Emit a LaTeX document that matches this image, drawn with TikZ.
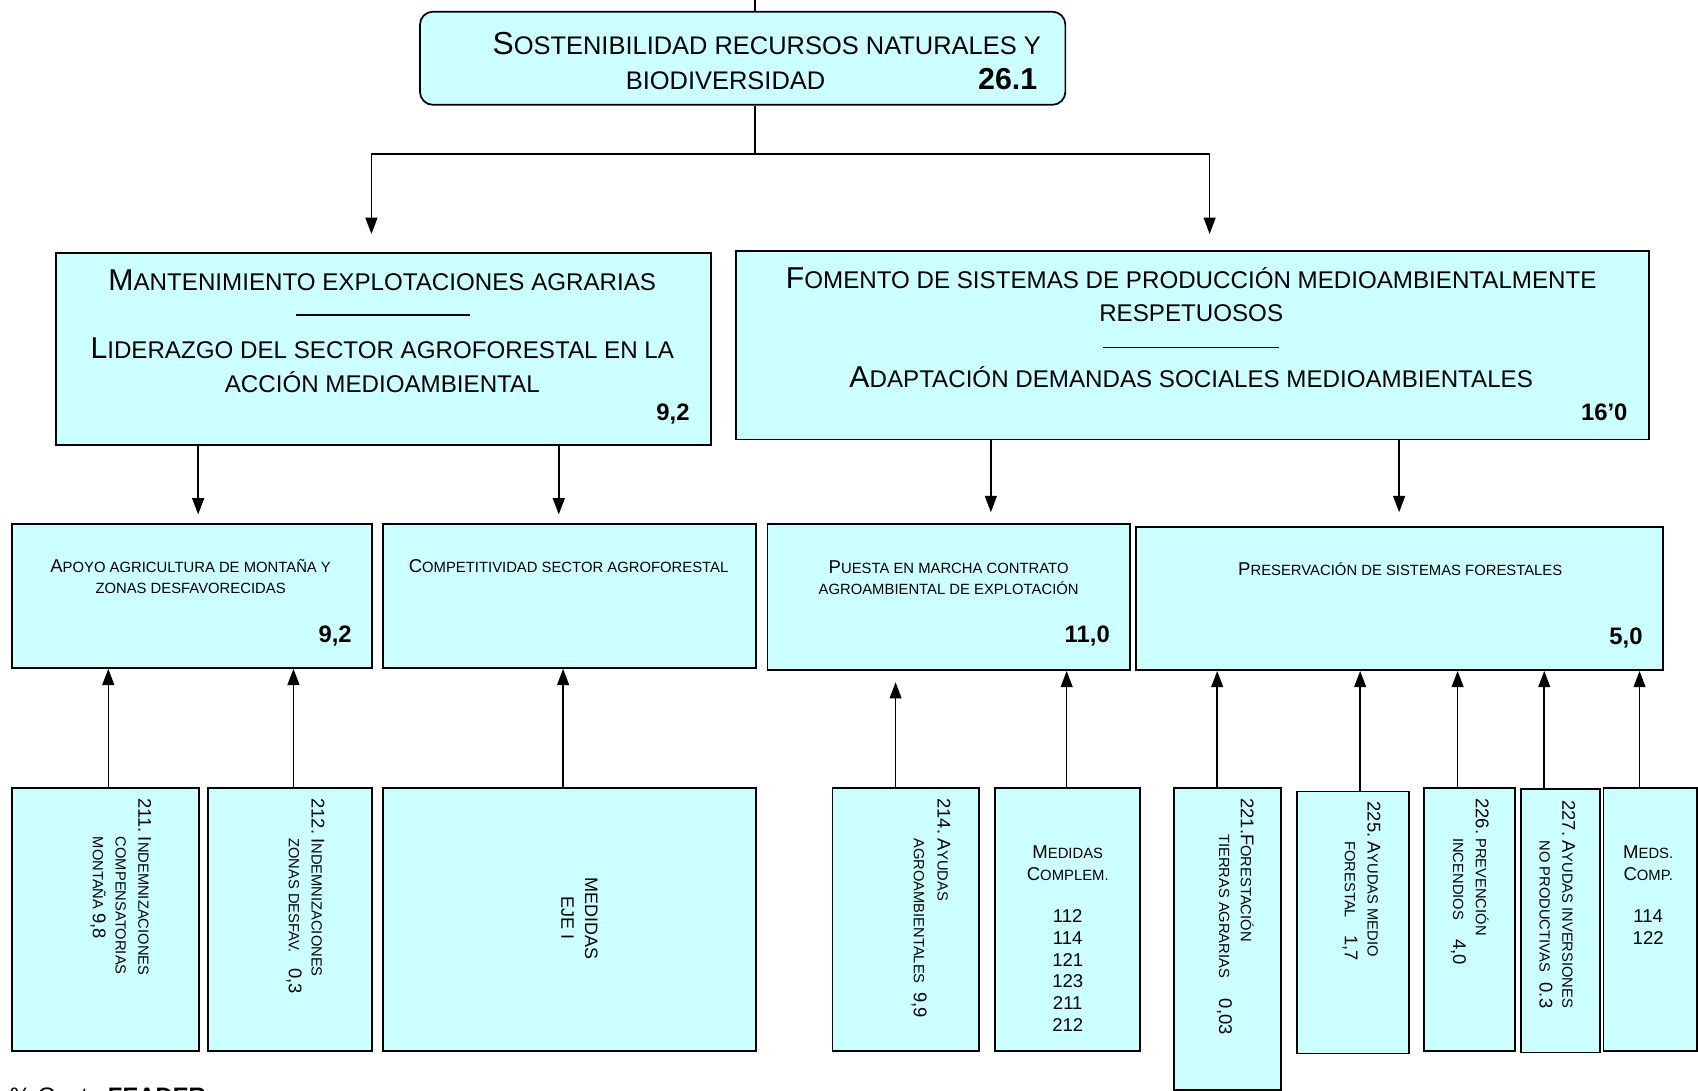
\documentclass[tikz,border=0pt]{standalone}
\usepackage{fontspec}
\setmainfont{Liberation Sans}
\usepackage{graphicx}
\usetikzlibrary{arrows.meta}
\definecolor{boxcyan}{HTML}{CCFFFF}
\newcommand\Up[1]{\scalebox{1.25}{#1}}
\newcommand\TS[1]{\rule{0pt}{#1pt}}
\begin{document}
\begin{tikzpicture}[x=1pt,y=-1pt,
 box/.style={draw=black, line width=1.6pt, fill=boxcyan, inner sep=0pt, anchor=north west},
 conn/.style={line width=1.4pt},
 arr/.style={conn, -{Triangle[length=15pt,width=11pt]}},
 numlbl/.style={font=\fontsize{22}{26}\selectfont\bfseries, anchor=base east, inner sep=0pt},
 midtxt/.style={font=\fontsize{22.3}{31}\selectfont, anchor=base, inner sep=0pt},
 toptxt/.style={font=\fontsize{23.5}{31}\selectfont, anchor=base, inner sep=0pt},
 rowtxt/.style={font=\fontsize{13.7}{20}\selectfont, align=center, anchor=north, inner sep=0pt},
 vtxt/.style={font=\fontsize{13.6}{21}\selectfont, align=left, rotate=-90, anchor=north west, inner sep=0pt},
 rulel/.style={line width=1.2pt}]
\useasboundingbox (0,0) rectangle (1568,1007);
\clip (0,0) rectangle (1568,1007);

% ---------- boxes ----------
\node[box, rounded corners=12pt, minimum width=596pt, minimum height=86pt] (top) at (387,10) {};
\node[box, minimum width=605pt, minimum height=177pt] (mL) at (51,233) {};
\node[box, minimum width=843pt, minimum height=174pt] (mR) at (679,231) {};
\node[box, minimum width=333pt, minimum height=133pt] (r1) at (10,483) {};
\node[box, minimum width=344pt, minimum height=133pt] (r2) at (353,483) {};
\node[box, minimum width=335pt, minimum height=135pt] (r3) at (708,483) {};
\node[box, minimum width=487pt, minimum height=132pt] (r4) at (1048,486) {};
\node[box, minimum width=173pt, minimum height=243pt] (b211) at (10,727) {};
\node[box, minimum width=152pt, minimum height=243pt] (b212) at (191,727) {};
\node[box, minimum width=344pt, minimum height=243pt] (beje) at (353,727) {};
\node[box, minimum width=135pt, minimum height=243pt] (b214) at (768,727) {};
\node[box, minimum width=134pt, minimum height=243pt] (bcomp) at (918,727) {};
\node[box, minimum width=99pt, minimum height=279pt] (b221) at (1083,727) {};
\node[box, minimum width=103pt, minimum height=242pt] (b225) at (1197,730) {};
\node[box, minimum width=84pt, minimum height=243pt] (b226) at (1314,727) {};
\node[box, minimum width=73pt, minimum height=243pt] (b227) at (1404,728) {};
\node[box, minimum width=86pt, minimum height=243pt] (bmeds) at (1480,727) {};

% ---------- connectors top ----------
\coordinate (topin) at (697,0);
\coordinate (j) at (697,142);
\coordinate (aL) at (343,216);
\coordinate (aR) at (1117,216);
\draw[conn] (topin) -- (topin |- top.north);
\draw[conn] (j |- top.south) -- (j);
\draw[arr] (j) -| (aL);
\draw[arr] (j) -| (aR);

% ---------- middle to row 3 ----------
\coordinate (x183) at (183,475);
\coordinate (x516) at (516,475);
\coordinate (x915) at (915,473);
\coordinate (x1292) at (1292,473);
\draw[arr] (x183 |- mL.south) -- (x183);
\draw[arr] (x516 |- mL.south) -- (x516);
\draw[arr] (x915 |- mR.south) -- (x915);
\draw[arr] (x1292 |- mR.south) -- (x1292);

% ---------- bottom to row 3 ----------
\coordinate (x100) at (100,0);
\coordinate (x271) at (271,0);
\coordinate (x520) at (520,0);
\coordinate (t214) at (827,630);
\coordinate (x985) at (985,0);
\coordinate (x1124) at (1124,0);
\coordinate (x1256) at (1256,0);
\coordinate (x1346) at (1346,0);
\coordinate (x1426) at (1426,0);
\coordinate (x1514) at (1514,0);
\draw[arr] (x100 |- b211.north) -- (x100 |- r1.south);
\draw[arr] (x271 |- b212.north) -- (x271 |- r1.south);
\draw[arr] (x520 |- beje.north) -- (x520 |- r2.south);
\draw[arr] (t214 |- b214.north) -- (t214);
\draw[arr] (x985 |- bcomp.north) -- (x985 |- r3.south);
\draw[arr] (x1124 |- b221.north) -- (x1124 |- r4.south);
\draw[arr] (x1256 |- b225.north) -- (x1256 |- r4.south);
\draw[arr] (x1346 |- b226.north) -- (x1346 |- r4.south);
\draw[arr] (x1426 |- b227.north) -- (x1426 |- r4.south);
\draw[arr] (x1514 |- bmeds.north) -- (x1514 |- r4.south);

% ---------- texts: top ----------
\node[toptxt] (t1a) at (708,50) {\Up{S}OSTENIBILIDAD RECURSOS NATURALES Y};
\node[toptxt] (t1b) at (670,83) {BIODIVERSIDAD};
\node[numlbl, font=\fontsize{28}{32}\selectfont\bfseries] (t1n) at (958,83) {26.1};

% ---------- texts: middle ----------
\node[midtxt] (mla) at (353,268) {\Up{M}ANTENIMIENTO EXPLOTACIONES AGRARIAS};
\draw[rulel] (273,291) -- (434,291);
\node[midtxt] (mlb) at (353,331) {\Up{L}IDERAZGO DEL SECTOR AGROFORESTAL EN LA};
\node[midtxt] (mlc) at (353,362) {ACCIÓN MEDIOAMBIENTAL};
\node[numlbl] (mln) at (637,388) {9,2};

\node[midtxt] (mra) at (1100,266) {\Up{F}OMENTO DE SISTEMAS DE PRODUCCIÓN MEDIOAMBIENTALMENTE};
\node[midtxt] (mrb) at (1100,297) {RESPETUOSOS};
\draw[rulel] (1019,321) -- (1181,321);
\node[midtxt] (mrc) at (1100,358) {\Up{A}DAPTACIÓN DEMANDAS SOCIALES MEDIOAMBIENTALES};
\node[numlbl] (mrn) at (1503,388) {16’0};

% ---------- texts: row 3 ----------
\node[rowtxt] (tr1) at (176,512) {\TS{16}\Up{A}POYO AGRICULTURA DE MONTAÑA Y\\ZONAS DESFAVORECIDAS};
\node[numlbl] (nr1) at (325,593) {9,2};
\node[rowtxt] (tr2) at (525,512) {\TS{16}\Up{C}OMPETITIVIDAD SECTOR AGROFORESTAL};
\node[rowtxt] (tr3) at (876,513) {\TS{16}\Up{P}UESTA EN MARCHA CONTRATO\\AGROAMBIENTAL DE EXPLOTACIÓN};
\node[numlbl] (nr3) at (1025,593) {11,0};
\node[rowtxt] (tr4) at (1293,515) {\TS{16}\Up{P}RESERVACIÓN DE SISTEMAS FORESTALES};
\node[numlbl] (nr4) at (1517,595) {5,0};

% ---------- texts: bottom ----------
\node[vtxt] (v211) at (143,737) {\TS{15}\Up{211.}\ \Up{I}NDEMNIZACIONES\\\hphantom{\Up{211.}\ }COMPENSATORIAS\\\hphantom{\Up{211.}\ }MONTAÑA \Up{9,8}};
\node[vtxt] (v212) at (303,737) {\TS{15}\Up{212.}\ \Up{I}NDEMNIZACIONES\\\hphantom{\Up{212.}\ }ZONAS DESFAV.\hspace{14pt}\Up{0,3}};
\node[font=\fontsize{16.6}{22}\selectfont, align=center, rotate=-90, inner sep=0pt] (veje) at (535,848) {MEDIDAS\\EJE I};
\node[vtxt, font=\fontsize{13.6}{22}\selectfont] (v214) at (881,737) {\TS{15}\Up{214.}\ \Up{A}YUDAS\\\hphantom{\Up{214.}\ }AGROAMBIENTALES\hspace{8pt}\Up{9,9}};
\node[rowtxt] (vcomp) at (986,777) {\TS{16}\Up{M}EDIDAS\\\Up{C}OMPLEM.\\[19pt]\Up{112}\\\Up{114}\\\Up{121}\\\Up{123}\\\Up{211}\\\Up{212}};
\node[vtxt, font=\fontsize{13.6}{20}\selectfont] (v221) at (1161,737) {\TS{15}\Up{221.}\Up{F}ORESTACIÓN\\\hphantom{\Up{221.}}TIERRAS AGRARIAS\hspace{19pt}\Up{0,03}};
\node[vtxt] (v225) at (1278,740) {\TS{15}\Up{225.}\ \Up{A}YUDAS MEDIO\\\hphantom{\Up{225.}\ }FORESTAL\hspace{16pt}\Up{1,7}};
\node[vtxt] (v226) at (1378,737) {\TS{15}\Up{226.}\ PREVENCIÓN\\\hphantom{\Up{226.}\ }INCENDIOS\hspace{18pt}\Up{4,0}};
\node[vtxt] (v227) at (1458,739) {\TS{15}\Up{227.}\ \Up{A}YUDAS INVERSIONES\\\hphantom{\Up{227.}\ }NO PRODUCTIVAS\hspace{10pt}\Up{0.3}};
\node[rowtxt] (vmeds) at (1522,777) {\TS{16}\Up{M}EDS.\\\Up{C}OMP.\\[19pt]\Up{114}\\\Up{122}};

% ---------- footer (cut by the page edge) ----------
\node[font=\fontsize{22}{26}\selectfont, anchor=north west, inner sep=0pt] (gasto) at (9,1004) {\% Gasto \textbf{FEADER}};
\end{tikzpicture}
\end{document}
